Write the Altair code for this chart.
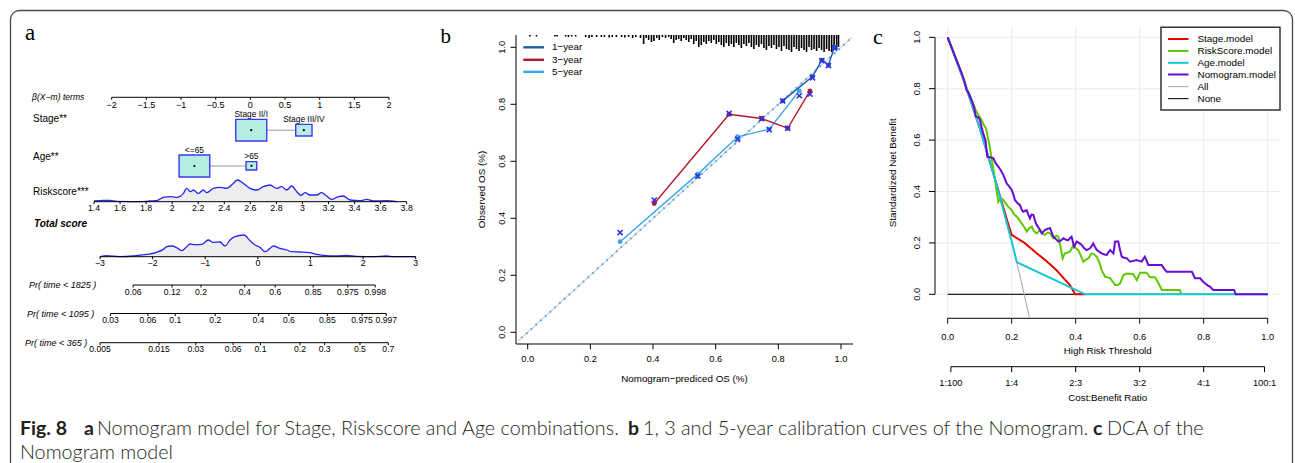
import altair as alt
import pandas as pd

W, H = 1295, 463

# ============================ DATA ============================
# ---- (a) nomogram ----
beta_ticks = [-2, -1.5, -1, -0.5, 0, 0.5, 1, 1.5, 2]
beta_tick_labels = ["−2", "−1.5", "−1", "−0.5", "0", "0.5", "1", "1.5", "2"]
stage_levels = ["Stage II/I", "Stage III/IV"]
stage_beta = [0.013, 0.772]
age_levels = ["<=65", ">65"]
age_beta = [-0.807, 0.015]

risk_ticks = [1.4, 1.6, 1.8, 2.0, 2.2, 2.4, 2.6, 2.8, 3.0, 3.2, 3.4, 3.6, 3.8]
risk_tick_labels = ["1.4", "1.6", "1.8", "2", "2.2", "2.4", "2.6", "2.8", "3", "3.2", "3.4", "3.6", "3.8"]
risk_grid = [1.400, 1.472, 1.523, 1.574, 1.753, 1.830, 1.881, 1.932, 1.996, 2.035,
             2.086, 2.111, 2.142, 2.162, 2.200, 2.239, 2.265, 2.316, 2.367, 2.418,
             2.469, 2.500, 2.546, 2.597, 2.649, 2.699, 2.751, 2.802, 2.840, 2.879,
             2.917, 2.956, 2.989, 3.019, 3.058, 3.109, 3.147, 3.186, 3.224, 3.275,
             3.313, 3.365, 3.441, 3.493, 3.544, 3.646, 3.723]
risk_density = [0.7, 1.3, 1.3, 0.3, 0.0, 0.7, 1.0, 4.3, 5.0, 4.3,
                8.3, 13.3, 10.0, 11.7, 8.3, 11.7, 9.0, 13.3, 14.3, 13.3,
                18.3, 21.7, 18.3, 13.3, 11.7, 15.0, 16.7, 13.3, 15.0, 11.7,
                15.7, 10.0, 6.3, 9.0, 6.7, 6.7, 9.0, 5.7, 2.3, 5.0,
                5.7, 1.7, 1.0, 2.3, 0.7, 1.0, 0.0]

total_ticks = [-3, -2, -1, 0, 1, 2, 3]
total_tick_labels = ["−3", "−2", "−1", "0", "1", "2", "3"]
total_grid = [-3.000, -2.873, -2.620, -2.367, -2.113, -1.923, -1.797, -1.733, -1.638, -1.543,
              -1.448, -1.352, -1.290, -1.195, -1.068, -0.942, -0.847, -0.720, -0.625, -0.529,
              -0.434, -0.263, -0.149, -0.054, 0.041, 0.136, 0.231, 0.294, 0.421, 0.548,
              0.643, 0.801, 0.991, 1.118, 1.244, 1.498, 1.688, 1.878, 2.194, 2.448,
              2.574, 3.000]
total_density = [0.0, 1.0, 0.0, 0.7, 2.3, 4.3, 7.3, 10.0, 10.7, 9.0,
                 6.0, 10.0, 12.7, 12.0, 12.3, 16.7, 14.3, 14.7, 10.7, 16.7,
                 20.0, 21.7, 16.0, 11.7, 9.3, 5.0, 8.3, 10.7, 8.3, 6.7,
                 5.0, 4.7, 4.0, 2.3, 1.3, 0.7, 1.3, 0.3, 0.0, 0.7,
                 0.0, 0.0]

pr_titles = ["Pr( time < 1825 )", "Pr( time < 1095 )", "Pr( time < 365 )"]
pr1825_labels = ["0.06", "0.12", "0.2", "0.4", "0.6", "0.85", "0.975", "0.998"]
pr1825_score = [-2.37, -1.63, -1.08, -0.25, 0.33, 1.05, 1.71, 2.23]
pr1095_labels = ["0.03", "0.06", "0.1", "0.2", "0.4", "0.6", "0.85", "0.975", "0.997"]
pr1095_score = [-2.80, -2.09, -1.57, -0.81, 0.01, 0.59, 1.32, 1.98, 2.44]
pr365_labels = ["0.005", "0.015", "0.03", "0.06", "0.1", "0.2", "0.3", "0.5", "0.7"]
pr365_score = [-3.00, -1.88, -1.18, -0.47, 0.05, 0.80, 1.27, 1.94, 2.48]

row_titles = ["Stage**", "Age**", "Riskscore***"]

# ---- (b) calibration ----
cal_names = ["1−year", "3−year", "5−year"]
cal_colors = ["#1F5FA6", "#B2182B", "#3DA4EE"]
cal1_pred = [0.814, 0.909, 0.939, 0.960, 0.979]
cal1_obs = [0.812, 0.897, 0.955, 0.938, 1.000]
cal1_corr = [0.812, 0.893, 0.953, 0.936, 0.998]
cal3_pred = [0.404, 0.643, 0.747, 0.830, 0.901]
cal3_obs = [0.452, 0.765, 0.750, 0.716, 0.847]
cal3_corr = [0.464, 0.768, 0.750, 0.716, 0.836]
cal5_pred = [0.295, 0.543, 0.670, 0.771, 0.867]
cal5_obs = [0.318, 0.555, 0.686, 0.713, 0.847]
cal5_corr = [0.350, 0.548, 0.677, 0.711, 0.830]
calib_ticks = [0.0, 0.2, 0.4, 0.6, 0.8, 1.0]
calib_tick_labels = ["0.0", "0.2", "0.4", "0.6", "0.8", "1.0"]
rug_spikes = [(0.007, 1.5), (0.028, 1.5), (0.087, 1.5), (0.094, 1.5), (0.121, 1.5), (0.130, 2),
              (0.140, 1.5), (0.153, 1.5), (0.185, 2), (0.196, 3), (0.205, 2), (0.220, 2),
              (0.235, 2), (0.245, 2), (0.260, 2.5), (0.270, 2), (0.283, 2), (0.300, 2),
              (0.310, 2.5), (0.322, 2), (0.335, 3), (0.345, 2), (0.360, 3),
              (0.370, 9), (0.378, 3), (0.386, 5), (0.395, 7), (0.403, 6), (0.412, 3),
              (0.420, 5), (0.430, 2), (0.440, 3), (0.450, 2), (0.458, 4), (0.466, 8),
              (0.474, 5), (0.482, 4), (0.490, 6), (0.498, 3), (0.506, 5), (0.514, 7),
              (0.522, 4), (0.530, 9), (0.538, 6), (0.546, 12), (0.554, 10), (0.562, 7),
              (0.570, 9), (0.578, 6), (0.586, 8), (0.594, 5), (0.602, 9), (0.610, 7),
              (0.618, 10), (0.626, 12), (0.634, 8), (0.642, 11), (0.650, 9), (0.658, 12),
              (0.666, 8), (0.674, 10), (0.682, 13), (0.690, 9), (0.698, 11), (0.706, 8),
              (0.714, 12), (0.722, 14), (0.730, 10), (0.738, 12), (0.746, 9), (0.754, 13),
              (0.762, 15), (0.770, 11), (0.778, 13), (0.786, 10), (0.794, 14), (0.802, 12),
              (0.810, 16), (0.818, 11), (0.826, 14), (0.834, 15), (0.842, 17), (0.850, 12),
              (0.858, 14), (0.866, 16), (0.874, 13), (0.882, 15), (0.890, 17), (0.898, 12),
              (0.906, 15), (0.914, 14), (0.922, 16), (0.930, 13), (0.938, 15), (0.946, 17),
              (0.954, 14), (0.962, 16), (0.970, 17), (0.978, 15), (0.986, 16), (0.992, 12)]

# ---- (c) decision curve ----
dca_names = ["Stage.model", "RiskScore.model", "Age.model", "Nomogram.model", "All", "None"]
dca_colors = ["#E80000", "#62C800", "#12C9D2", "#6A0AD8", "#ABABAB", "#222222"]
dca_none = [(0.0, 0.0), (1.0, 0.0)]
dca_all = [(0.0, 1.0), (0.05, 0.833), (0.10, 0.647), (0.15, 0.439), (0.175, 0.325),
           (0.20, 0.205), (0.225, 0.077), (0.255, -0.089)]
dca_stage = [(0.0, 1.0), (0.05, 0.833), (0.10, 0.647), (0.15, 0.439), (0.19, 0.27),
             (0.20, 0.231), (0.24, 0.20), (0.278, 0.16), (0.31, 0.128), (0.34, 0.094),
             (0.36, 0.066), (0.382, 0.036), (0.398, 0.0), (0.43, 0.0)]
dca_age = [(0.0, 1.0), (0.05, 0.833), (0.10, 0.647), (0.15, 0.439), (0.20, 0.205),
           (0.216, 0.125), (0.43, 0.0), (1.0, 0.0)]
dca_risk = [(0.0, 1.0), (0.03, 0.905), (0.06, 0.80), (0.09, 0.71), (0.105, 0.68), (0.113, 0.66),
            (0.12, 0.645), (0.132, 0.57), (0.145, 0.47), (0.155, 0.385), (0.158, 0.36),
            (0.165, 0.375), (0.174, 0.367), (0.182, 0.352), (0.189, 0.341), (0.2, 0.328),
            (0.208, 0.31), (0.216, 0.302), (0.231, 0.276), (0.24, 0.26), (0.247, 0.244),
            (0.255, 0.258), (0.263, 0.263), (0.27, 0.245), (0.278, 0.237), (0.289, 0.25),
            (0.297, 0.235), (0.304, 0.231), (0.312, 0.24), (0.32, 0.237), (0.33, 0.218),
            (0.34, 0.228), (0.346, 0.224), (0.352, 0.19), (0.359, 0.14), (0.366, 0.159),
            (0.375, 0.162), (0.382, 0.166), (0.393, 0.192), (0.4, 0.18), (0.408, 0.172),
            (0.416, 0.15), (0.424, 0.127), (0.432, 0.135), (0.44, 0.14), (0.45, 0.16),
            (0.458, 0.155), (0.466, 0.146), (0.475, 0.12), (0.481, 0.094), (0.492, 0.068),
            (0.5, 0.066), (0.508, 0.062), (0.515, 0.05), (0.523, 0.036), (0.531, 0.036),
            (0.539, 0.043), (0.549, 0.075), (0.557, 0.08), (0.564, 0.081), (0.58, 0.078),
            (0.591, 0.055), (0.601, 0.084), (0.622, 0.084), (0.632, 0.066), (0.648, 0.066),
            (0.66, 0.04), (0.669, 0.017), (0.726, 0.017), (0.729, 0.0)]
dca_nomo = [(0.0, 1.0), (0.02, 0.935), (0.044, 0.86), (0.052, 0.83), (0.059, 0.795), (0.065, 0.785),
            (0.075, 0.755), (0.082, 0.73), (0.088, 0.691), (0.095, 0.69), (0.101, 0.678),
            (0.106, 0.65), (0.111, 0.626), (0.118, 0.60), (0.124, 0.535), (0.133, 0.533),
            (0.143, 0.529), (0.15, 0.51), (0.158, 0.497), (0.166, 0.483), (0.174, 0.464),
            (0.18, 0.445), (0.184, 0.432), (0.192, 0.42), (0.2, 0.406), (0.205, 0.39),
            (0.21, 0.367), (0.218, 0.355), (0.226, 0.347), (0.231, 0.33), (0.236, 0.321),
            (0.242, 0.325), (0.247, 0.327), (0.252, 0.31), (0.257, 0.296), (0.262, 0.31),
            (0.268, 0.309), (0.273, 0.285), (0.278, 0.27), (0.286, 0.255), (0.294, 0.237),
            (0.3, 0.245), (0.304, 0.25), (0.312, 0.255), (0.32, 0.257), (0.325, 0.24),
            (0.33, 0.224), (0.338, 0.215), (0.346, 0.205), (0.354, 0.21), (0.362, 0.218),
            (0.37, 0.212), (0.377, 0.211), (0.383, 0.22), (0.387, 0.224), (0.395, 0.185),
            (0.403, 0.205), (0.41, 0.2), (0.419, 0.192), (0.426, 0.18), (0.434, 0.172),
            (0.445, 0.179), (0.455, 0.198), (0.46, 0.185), (0.466, 0.172), (0.474, 0.165),
            (0.481, 0.159), (0.49, 0.155), (0.497, 0.153), (0.503, 0.165), (0.508, 0.172),
            (0.513, 0.165), (0.518, 0.159), (0.523, 0.205), (0.533, 0.205), (0.538, 0.175),
            (0.544, 0.146), (0.552, 0.142), (0.56, 0.14), (0.565, 0.133), (0.57, 0.127),
            (0.58, 0.13), (0.59, 0.133), (0.598, 0.13), (0.606, 0.127), (0.616, 0.146),
            (0.622, 0.13), (0.627, 0.114), (0.669, 0.114), (0.676, 0.1), (0.684, 0.088),
            (0.763, 0.088), (0.768, 0.075), (0.773, 0.062), (0.789, 0.062), (0.796, 0.052),
            (0.804, 0.043), (0.812, 0.035), (0.82, 0.03), (0.825, 0.022), (0.83, 0.017),
            (0.895, 0.017), (0.9, 0.0), (1.0, 0.0)]
dca_ticks = [0.0, 0.2, 0.4, 0.6, 0.8, 1.0]
dca_tick_labels = ["0.0", "0.2", "0.4", "0.6", "0.8", "1.0"]
cost_thr = [0.01, 0.2, 0.4, 0.6, 0.8, 0.99]
cost_labels = ["1:100", "1:4", "2:3", "3:2", "4:1", "100:1"]

# ---- caption ----
caption_parts = ["Fig. 8", "a", "Nomogram model for Stage, Riskscore and Age combinations.",
                 "b", "1, 3 and 5-year calibration curves of the Nomogram.", "c", "DCA of the",
                 "Nomogram model"]
caption_bold = [True, True, False, True, False, True, False, False]

# ============================ LAYOUT ============================
SANS = "Liberation Sans"
SERIF = "Liberation Serif"
CAPF = "Lato"


def xscale(v0, p0, v1, p1):
    s = (p1 - p0) / (v1 - v0)
    return alt.Scale(domain=[v0 - p0 / s, v0 + (W - p0) / s], nice=False, zero=False)


def yscale(v0, p0, v1, p1):
    s = (p0 - p1) / (v1 - v0)
    return alt.Scale(domain=[v0 - (H - p0) / s, v0 + p0 / s], nice=False, zero=False)


PX = alt.Scale(domain=[0, W], nice=False, zero=False)
PY = alt.Scale(domain=[0, H], reverse=True, nice=False, zero=False)


def ex(f, sc):
    return alt.X(f"{f}:Q", scale=sc, axis=None)


def ey(f, sc):
    return alt.Y(f"{f}:Q", scale=sc, axis=None)


def seg_layer(rows, sx, sy, **mk):
    df = pd.DataFrame(rows, columns=["x", "y", "x2", "y2"])
    style = dict(color="black", strokeWidth=1)
    style.update(mk)
    return alt.Chart(df).mark_rule(**style).encode(
        x=ex("x", sx), y=ey("y", sy), x2="x2:Q", y2="y2:Q")


def text_layer(rows, sx, sy, **mk):
    df = pd.DataFrame(rows, columns=["x", "y", "t"])
    style = dict(font=SANS, fontSize=9, color="black", align="center", baseline="middle")
    style.update(mk)
    return alt.Chart(df).mark_text(**style).encode(
        x=ex("x", sx), y=ey("y", sy), text="t:N")


# ---------- panel a geometry ----------
SB = xscale(-2, 111.7, 2, 389.0)
SR = xscale(1.4, 94.0, 3.8, 406.7)
ST = xscale(-3, 100.0, 3, 415.7)
BETA_PX = (389.0 - 111.7) / 4.0
Y_BETA, Y_RISK, Y_TOTAL = 97.3, 201.7, 256.7
Y_PR = [285.0, 313.5, 342.7]
Y_PR_LAB = [292.3, 319.8, 349.3]
TICK = 2.5
stage_box = dict(cy=[130.2, 130.2], w=[31.0, 16.3], h=[21.7, 11.7])
age_box = dict(cy=[166.0, 165.8], w=[30.7, 10.7], h=[22.0, 8.3])


def nomo_axis(vals, labels, sx, y_line, y_lab, fs=8.6):
    return [
        seg_layer([(min(vals), y_line, max(vals), y_line)], sx, PY),
        seg_layer([(v, y_line, v, y_line + TICK) for v in vals], sx, PY),
        text_layer([(v, y_lab, l) for v, l in zip(vals, labels)], sx, PY, fontSize=fs),
    ]


def density(grid, dens, sx, base):
    df = pd.DataFrame({"x": grid, "h": dens})
    df["top"] = base - df["h"]
    df["base"] = base
    area = alt.Chart(df).mark_area(color="#EDEDED", interpolate="monotone").encode(
        x=ex("x", sx), y=ey("top", PY), y2="base:Q")
    line = alt.Chart(df).mark_line(color="#2626F2", strokeWidth=1.3, interpolate="monotone").encode(
        x=ex("x", sx), y=ey("top", PY))
    return [area, line]


def boxes(levels, betas, geo):
    df = pd.DataFrame({"lev": levels, "b": betas, "cy": geo["cy"], "w": geo["w"], "h": geo["h"]})
    df["x"] = df["b"] - df["w"] / 2 / BETA_PX
    df["x2"] = df["b"] + df["w"] / 2 / BETA_PX
    df["y"] = df["cy"] - df["h"] / 2
    df["y2"] = df["cy"] + df["h"] / 2
    df["ly"] = df["y"] - 5.5
    conn = seg_layer([(betas[0], geo["cy"][0], betas[1], geo["cy"][0])], SB, PY,
                     color="#BDBDBD", strokeWidth=1.6)
    rect = alt.Chart(df).mark_rect(fill="#B5EDE2", stroke="#3A3AF5", strokeWidth=1.4).encode(
        x=ex("x", SB), x2="x2:Q", y=ey("y", PY), y2="y2:Q")
    dot = alt.Chart(df).mark_circle(color="black", size=5, opacity=1).encode(
        x=ex("b", SB), y=ey("cy", PY))
    lab = alt.Chart(df).mark_text(font=SANS, fontSize=8.4, baseline="middle", align="center").encode(
        x=ex("b", SB), y=ey("ly", PY), text="lev:N")
    return [conn, rect, dot, lab]


g_beta = alt.layer(
    *nomo_axis(beta_ticks, beta_tick_labels, SB, Y_BETA, 105.0, fs=9),
    *boxes(stage_levels, stage_beta, stage_box),
    *boxes(age_levels, age_beta, age_box),
)
g_risk = alt.layer(
    *density(risk_grid, risk_density, SR, Y_RISK),
    *nomo_axis(risk_ticks, risk_tick_labels, SR, Y_RISK, 207.9, fs=8.8),
)
pr_layers = []
for sc_vals, labs, yl, yt in zip([pr1825_score, pr1095_score, pr365_score],
                                 [pr1825_labels, pr1095_labels, pr365_labels], Y_PR, Y_PR_LAB):
    pr_layers += nomo_axis(sc_vals, labs, ST, yl, yt, fs=8.6)
g_total = alt.layer(
    *density(total_grid, total_density, ST, Y_TOTAL),
    *nomo_axis(total_ticks, total_tick_labels, ST, Y_TOTAL, 262.6, fs=8.8),
    *pr_layers,
)

# ---------- panel b geometry ----------
BX0, BX1, BY0, BY1 = 527.7, 841.0, 332.3, 47.3
SBX = xscale(0, BX0, 1, BX1)
SBY = yscale(0, BY0, 1, BY1)


def bx(p):
    return (p - BX0) / (BX1 - BX0)


def by(p):
    return (BY0 - p) / (BY0 - BY1)


B_LEFT, B_RIGHT, B_TOP, B_BOTTOM = 516.0, 853.0, 35.0, 344.0
rug_df = pd.DataFrame(rug_spikes, columns=["x", "n"])
rug_df["y"] = by(B_TOP)
rug_df["y2"] = by(B_TOP) - rug_df["n"] / (BY0 - BY1)
rug = alt.Chart(rug_df).mark_rule(color="#000000", strokeWidth=1.6).encode(
    x=ex("x", SBX), y=ey("y", SBY), y2="y2:Q")

b_layers = [
    rug,
    seg_layer([(-0.03, -0.03, 1.035, 1.035)], SBX, SBY, color="#D0D0D0", strokeWidth=1.2),
    seg_layer([(-0.02, -0.02, 1.03, 1.03)], SBX, SBY, color="#3DA4EE", strokeWidth=2.0,
              strokeDash=[1.5, 4.9]),
]
for pred, obs, col in zip([cal5_pred, cal3_pred, cal1_pred], [cal5_obs, cal3_obs, cal1_obs],
                          [cal_colors[2], cal_colors[1], cal_colors[0]]):
    df = pd.DataFrame({"x": pred, "y": obs, "i": list(range(len(pred)))})
    b_layers.append(alt.Chart(df).mark_line(color=col, strokeWidth=1.4).encode(
        x=ex("x", SBX), y=ey("y", SBY), order="i:Q"))
    b_layers.append(alt.Chart(df).mark_circle(color=col, size=24, opacity=1).encode(
        x=ex("x", SBX), y=ey("y", SBY)))
corr_df = pd.DataFrame({"x": cal1_pred + cal3_pred + cal5_pred,
                        "y": cal1_corr + cal3_corr + cal5_corr})
b_layers.append(alt.Chart(corr_df).mark_point(
    shape="M -1 -1 L 1 1 M 1 -1 L -1 1", filled=False, color="#2F2FE8", size=26,
    strokeWidth=1.6, opacity=1).encode(x=ex("x", SBX), y=ey("y", SBY)))
# axes
b_layers += [
    seg_layer([(bx(B_LEFT), by(B_BOTTOM), bx(B_LEFT), by(B_TOP))], SBX, SBY),
    seg_layer([(bx(B_LEFT), by(B_BOTTOM), bx(B_RIGHT), by(B_BOTTOM))], SBX, SBY),
    seg_layer([(bx(B_LEFT), v, bx(B_LEFT - 5.5), v) for v in calib_ticks], SBX, SBY),
    seg_layer([(v, by(B_BOTTOM), v, by(B_BOTTOM + 5.3)) for v in calib_ticks], SBX, SBY),
    text_layer([(bx(501.8), v, l) for v, l in zip(calib_ticks, calib_tick_labels)], SBX, SBY,
               fontSize=9.3, angle=270),
    text_layer([(v, by(359.0), l) for v, l in zip(calib_ticks, calib_tick_labels)], SBX, SBY,
               fontSize=9.3),
]
g_b = alt.layer(*b_layers)

# ---------- panel c geometry ----------
CX0, CX1, CY0, CY1 = 947.7, 1267.7, 294.3, 37.3
SCX = xscale(0, CX0, 1, CX1)
SCY = yscale(0, CY0, 1, CY1)


def cx(p):
    return (p - CX0) / (CX1 - CX0)


def cy(p):
    return (CY0 - p) / (CY0 - CY1)


C_LEFT, C_RIGHT, C_TOP, C_BOTTOM = 935.0, 1280.0, 27.0, 318.3
C_COST = 366.7
c_layers = [
    seg_layer([(v, cy(C_BOTTOM), v, cy(C_TOP)) for v in dca_ticks], SCX, SCY,
              color="#EBEBEB", strokeWidth=1.1),
    seg_layer([(cx(C_LEFT), v, cx(C_RIGHT), v) for v in dca_ticks], SCX, SCY,
              color="#EBEBEB", strokeWidth=1.1),
]
curve_specs = [(dca_none, dca_colors[5], 1.2), (dca_all, dca_colors[4], 1.1),
               (dca_stage, dca_colors[0], 2.0), (dca_risk, dca_colors[1], 2.0),
               (dca_age, dca_colors[2], 2.0), (dca_nomo, dca_colors[3], 2.0)]
for pts, col, wdt in curve_specs:
    df = pd.DataFrame(pts, columns=["x", "y"])
    df["i"] = list(range(len(df)))
    c_layers.append(alt.Chart(df).mark_line(color=col, strokeWidth=wdt).encode(
        x=ex("x", SCX), y=ey("y", SCY), order="i:Q"))
c_layers += [
    seg_layer([(cx(C_LEFT), 0.0, cx(C_LEFT), 1.0)], SCX, SCY),
    seg_layer([(cx(C_LEFT), v, cx(C_LEFT - 6), v) for v in dca_ticks], SCX, SCY),
    text_layer([(cx(916.8), v, l) for v, l in zip(dca_ticks, dca_tick_labels)], SCX, SCY,
               fontSize=9.3, angle=270),
    seg_layer([(0.0, cy(C_BOTTOM), 1.0, cy(C_BOTTOM))], SCX, SCY),
    seg_layer([(v, cy(C_BOTTOM), v, cy(C_BOTTOM + 5.3)) for v in dca_ticks], SCX, SCY),
    text_layer([(v, cy(336.8), l) for v, l in zip(dca_ticks, dca_tick_labels)], SCX, SCY,
               fontSize=9.3),
    seg_layer([(cost_thr[0], cy(C_COST), cost_thr[-1], cy(C_COST))], SCX, SCY),
    seg_layer([(v, cy(C_COST), v, cy(C_COST + 5.5)) for v in cost_thr], SCX, SCY),
    text_layer([(v, cy(383.4), l) for v, l in zip(cost_thr, cost_labels)], SCX, SCY,
               fontSize=9.3),
]
g_c = alt.layer(*c_layers)

# ---------- pixel-space decorations ----------
border = alt.Chart(pd.DataFrame({"x": [10.5], "x2": [1292.5], "y": [10.5], "y2": [600.0]})).mark_rect(
    fillOpacity=0, stroke="#4A4A4A", strokeWidth=1.3, cornerRadius=9).encode(
    x=ex("x", PX), x2="x2:Q", y=ey("y", PY), y2="y2:Q")

deco = [
    text_layer([(25.0, 40.0, "a")], PX, PY, font=SERIF, fontSize=23, align="left", baseline="alphabetic"),
    text_layer([(440.5, 43.3, "b")], PX, PY, font=SERIF, fontSize=21, align="left", baseline="alphabetic"),
    text_layer([(873.0, 43.5, "c")], PX, PY, font=SERIF, fontSize=22, align="left", baseline="alphabetic"),
    # panel a row titles
    text_layer([(32.0, 97.0, "β(X−m) terms")], PX, PY, fontSize=8.6, fontStyle="italic", align="left"),
    text_layer([(33.0, 119.3, row_titles[0]), (33.0, 157.0, row_titles[1]), (33.0, 192.0, row_titles[2])],
               PX, PY, fontSize=10, align="left"),
    text_layer([(34.0, 224.2, "Total score")], PX, PY, fontSize=10, fontStyle="italic",
               fontWeight="bold", align="left"),
    text_layer([(29.0, 285.0, pr_titles[0]), (27.0, 313.5, pr_titles[1]), (25.0, 343.0, pr_titles[2])],
               PX, PY, fontSize=9, fontStyle="italic", align="left"),
    # panel b titles + legend
    text_layer([(684.5, 379.3, "Nomogram−prediced OS (%)")], PX, PY, fontSize=9.8),
    text_layer([(482.0, 189.5, "Observed OS (%)")], PX, PY, fontSize=9.8, angle=270),
]
leg_b_y = [47.3, 59.8, 71.8]
for name, col, yy in zip(cal_names, cal_colors, leg_b_y):
    deco.append(seg_layer([(523.3, yy, 544.0, yy)], PX, PY, color=col, strokeWidth=2.4))
    deco.append(text_layer([(552.0, yy, name)], PX, PY, fontSize=9.8, align="left"))
# panel c titles + legend
deco += [
    text_layer([(1107.7, 351.0, "High Risk Threshold")], PX, PY, fontSize=9.8),
    text_layer([(1107.7, 397.5, "Cost:Benefit Ratio")], PX, PY, fontSize=9.8),
    text_layer([(893.0, 172.7, "Standardized Net Benefit")], PX, PY, fontSize=9.8, angle=270),
]
leg_box = alt.Chart(pd.DataFrame({"x": [1161.0], "x2": [1280.0], "y": [27.3], "y2": [110.0]})).mark_rect(
    fill="white", stroke="#333333", strokeWidth=1.5).encode(
    x=ex("x", PX), x2="x2:Q", y=ey("y", PY), y2="y2:Q")
deco.append(leg_box)
leg_c_y = [39.0, 51.0, 62.8, 74.5, 86.6, 98.6]
leg_c_w = [2.0, 2.0, 2.0, 2.0, 1.1, 1.2]
for name, col, yy, wdt in zip(dca_names, dca_colors, leg_c_y, leg_c_w):
    deco.append(seg_layer([(1168.0, yy, 1188.5, yy)], PX, PY, color=col, strokeWidth=wdt))
    deco.append(text_layer([(1197.5, yy, name)], PX, PY, fontSize=9.9, align="left"))
# caption
cap_x = [20.0, 84.0, 97.0, 628.0, 643.0, 1093.0, 1107.0, 20.0]
cap_y = [434.5, 434.5, 434.5, 434.5, 434.5, 434.5, 434.5, 458.5]
for txt, bold, xx, yy in zip(caption_parts, caption_bold, cap_x, cap_y):
    deco.append(text_layer([(xx, yy, txt)], PX, PY, font=CAPF, fontSize=19.5 if bold else 19.8,
                           fontWeight="bold" if bold else 300, color="#231F20",
                           align="left", baseline="alphabetic"))

g_border = alt.layer(border)
g_deco = alt.layer(*deco)

chart = alt.layer(g_border, g_beta, g_risk, g_total, g_b, g_c, g_deco).resolve_scale(
    x="independent", y="independent"
).properties(
    width=W, height=H, padding=0, background="white",
    autosize=alt.AutoSizeParams(type="none"),
).configure_view(strokeWidth=0)

chart.save("out.html", embed_options={"renderer": "svg", "actions": False})
